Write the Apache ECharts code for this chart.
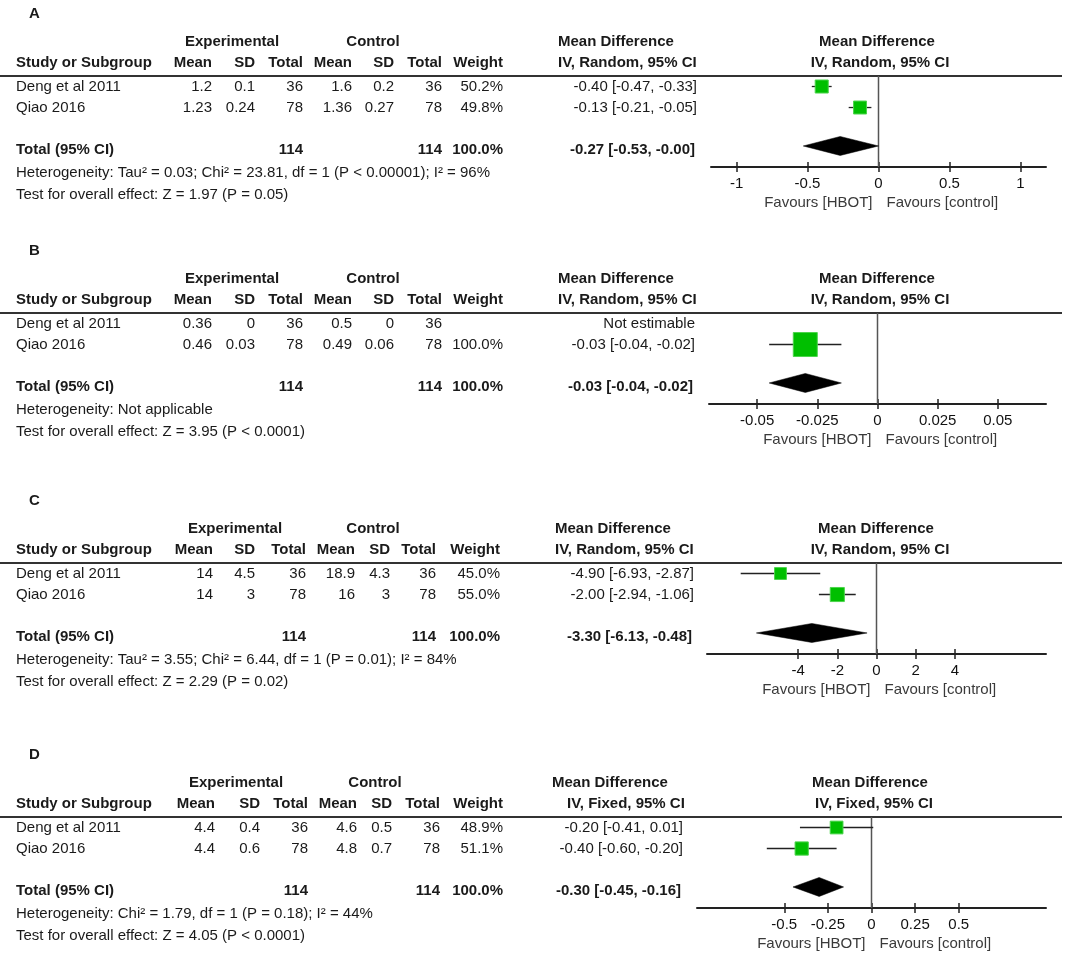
<!DOCTYPE html>
<html>
<head>
<meta charset="utf-8">
<script src="https://cdn.jsdelivr.net/npm/echarts@6/dist/echarts.min.js"></script>
<style>
html,body{margin:0;padding:0;background:#fff;}
#chart{width:1084px;height:957px;}
</style>
</head>
<body>
<div id="chart"></div>
<script>
// ---------------- DATA ----------------
const panelLetters = ['A', 'B', 'C', 'D'];
const studies = ['Deng et al 2011', 'Qiao 2016'];
const colHeaders = ['Mean', 'SD', 'Total', 'Mean', 'SD', 'Total', 'Weight'];
const expMean  = [['1.2', '1.23'], ['0.36', '0.46'], ['14', '14'], ['4.4', '4.4']];
const expSD    = [['0.1', '0.24'], ['0', '0.03'], ['4.5', '3'], ['0.4', '0.6']];
const expTotal = [['36', '78'], ['36', '78'], ['36', '78'], ['36', '78']];
const ctlMean  = [['1.6', '1.36'], ['0.5', '0.49'], ['18.9', '16'], ['4.6', '4.8']];
const ctlSD    = [['0.2', '0.27'], ['0', '0.06'], ['4.3', '3'], ['0.5', '0.7']];
const ctlTotal = [['36', '78'], ['36', '78'], ['36', '78'], ['36', '78']];
const weightText = [['50.2%', '49.8%'], ['', '100.0%'], ['45.0%', '55.0%'], ['48.9%', '51.1%']];
const mdText = [
  ['-0.40 [-0.47, -0.33]', '-0.13 [-0.21, -0.05]'],
  ['Not estimable', '-0.03 [-0.04, -0.02]'],
  ['-4.90 [-6.93, -2.87]', '-2.00 [-2.94, -1.06]'],
  ['-0.20 [-0.41, 0.01]', '-0.40 [-0.60, -0.20]']
];
const totalExp = ['114', '114', '114', '114'];
const totalCtl = ['114', '114', '114', '114'];
const totalWeight = ['100.0%', '100.0%', '100.0%', '100.0%'];
const totalText = ['-0.27 [-0.53, -0.00]', '-0.03 [-0.04, -0.02]', '-3.30 [-6.13, -0.48]', '-0.30 [-0.45, -0.16]'];
const methods = ['Random', 'Random', 'Random', 'Fixed'];
const heterogeneity = [
  'Heterogeneity: Tau² = 0.03; Chi² = 23.81, df = 1 (P < 0.00001); I² = 96%',
  'Heterogeneity: Not applicable',
  'Heterogeneity: Tau² = 3.55; Chi² = 6.44, df = 1 (P = 0.01); I² = 84%',
  'Heterogeneity: Chi² = 1.79, df = 1 (P = 0.18); I² = 44%'
];
const overallTest = [
  'Test for overall effect: Z = 1.97 (P = 0.05)',
  'Test for overall effect: Z = 3.95 (P < 0.0001)',
  'Test for overall effect: Z = 2.29 (P = 0.02)',
  'Test for overall effect: Z = 4.05 (P < 0.0001)'
];
// plotted estimates
const md      = [[-0.40, -0.13], [null, -0.03], [-4.90, -2.00], [-0.20, -0.40]];
const ciLo    = [[-0.47, -0.21], [null, -0.045], [-6.93, -2.94], [-0.41, -0.60]];
const ciHi    = [[-0.33, -0.05], [null, -0.015], [-2.87, -1.06], [0.01, -0.20]];
const weights = [[50.2, 49.8], [null, 100.0], [45.0, 55.0], [48.9, 51.1]];
const totalMd = [-0.27, -0.03, -3.30, -0.30];
const totalLo = [-0.53, -0.045, -6.13, -0.45];
const totalHi = [-0.00, -0.015, -0.48, -0.16];
const axisMax = [1.18, 0.07, 8.65, 1.0];
const axisTicks = [
  [-1, -0.5, 0, 0.5, 1],
  [-0.05, -0.025, 0, 0.025, 0.05],
  [-4, -2, 0, 2, 4],
  [-0.5, -0.25, 0, 0.25, 0.5]
];
const favours = ['Favours [HBOT]', 'Favours [control]'];

// ---------------- LAYOUT ----------------
const layout = [
  {T: 76,  col: [212, 255, 303, 352, 394, 442, 503], expC: 232, ctlC: 373, mdHdrL: 558, ivHdrL: 558, mdR: 697, plotMdC: 877, plotIvC: 880, gl: 711, gr: 1046},
  {T: 313, col: [212, 255, 303, 352, 394, 442, 503], expC: 232, ctlC: 373, mdHdrL: 558, ivHdrL: 558, mdR: 695, plotMdC: 877, plotIvC: 880, gl: 709, gr: 1046},
  {T: 563, col: [213, 255, 306, 355, 390, 436, 500], expC: 235, ctlC: 373, mdHdrL: 555, ivHdrL: 555, mdR: 694, plotMdC: 876, plotIvC: 880, gl: 707, gr: 1046},
  {T: 817, col: [215, 260, 308, 357, 392, 440, 503], expC: 236, ctlC: 375, mdHdrL: 552, ivHdrL: 567, mdR: 683, plotMdC: 870, plotIvC: 874, gl: 697, gr: 1046}
];
const AXIS_OFF = 91;
const rowPos = [0.5, 1.5];
const totalRowPos = 3.33;
const yMax = 4.33;
const FONT = '"Liberation Sans", Arial, Helvetica, sans-serif';
const FS = 15;
const TEXT_COLOR = '#1a1a1a';

function txt(x, y, s, align, bold, color) {
  return {
    type: 'text', silent: true,
    style: {
      x: x, y: y, text: s,
      font: (bold ? 'bold ' : '') + FS + 'px ' + FONT,
      fill: color || TEXT_COLOR,
      align: align || 'left', textAlign: align || 'left',
      verticalAlign: 'middle', textVerticalAlign: 'middle'
    }
  };
}

const chart = echarts.init(document.getElementById('chart'), null, {renderer: 'canvas'});

const graphics = [];
const grids = [], xAxes = [], yAxes = [], series = [];

panelLetters.forEach(function (letter, p) {
  const L = layout[p];
  const T = L.T;
  graphics.push(txt(29, T - 62, letter, 'left', true));
  graphics.push(txt(L.expC, T - 34, 'Experimental', 'center', true));
  graphics.push(txt(L.ctlC, T - 34, 'Control', 'center', true));
  graphics.push(txt(L.mdHdrL, T - 34, 'Mean Difference', 'left', true));
  graphics.push(txt(L.plotMdC, T - 34, 'Mean Difference', 'center', true));
  graphics.push(txt(16, T - 13, 'Study or Subgroup', 'left', true));
  colHeaders.forEach(function (h, c) { graphics.push(txt(L.col[c], T - 13, h, 'right', true)); });
  const ivLabel = 'IV, ' + methods[p] + ', 95% CI';
  graphics.push(txt(L.ivHdrL, T - 13, ivLabel, 'left', true));
  graphics.push(txt(L.plotIvC, T - 13, ivLabel, 'center', true));
  // rule
  graphics.push({type: 'line', silent: true, shape: {x1: 0, y1: T, x2: 1062, y2: T}, style: {stroke: '#333', lineWidth: 2}});
  // study rows
  studies.forEach(function (s, r) {
    const y = T + [11, 32][r];
    graphics.push(txt(16, y, s, 'left', false));
    const vals = [expMean[p][r], expSD[p][r], expTotal[p][r], ctlMean[p][r], ctlSD[p][r], ctlTotal[p][r], weightText[p][r]];
    vals.forEach(function (v, c) { if (v) graphics.push(txt(L.col[c], y, v, 'right', false)); });
    graphics.push(txt(L.mdR, y, mdText[p][r], 'right', false));
  });
  // total row
  const ty = T + 74;
  graphics.push(txt(16, ty, 'Total (95% CI)', 'left', true));
  graphics.push(txt(L.col[2], ty, totalExp[p], 'right', true));
  graphics.push(txt(L.col[5], ty, totalCtl[p], 'right', true));
  graphics.push(txt(L.col[6], ty, totalWeight[p], 'right', true));
  graphics.push(txt(L.mdR - 2, ty, totalText[p], 'right', true));
  graphics.push(txt(16, T + 97, heterogeneity[p], 'left', false));
  graphics.push(txt(16, T + 119, overallTest[p], 'left', false));

  // grid & axes
  grids.push({left: L.gl, width: L.gr - L.gl, top: T, height: AXIS_OFF, containLabel: false});
  const common = {type: 'value', gridIndex: p, min: -axisMax[p], max: axisMax[p], splitLine: {show: false}};
  xAxes.push(Object.assign({}, common, {
    position: 'bottom',
    axisLine: {show: true, onZero: false, lineStyle: {color: '#222', width: 2}},
    axisTick: {show: true, inside: false, length: 5, customValues: axisTicks[p], lineStyle: {color: '#222', width: 1.5}},
    axisLabel: {show: true, customValues: axisTicks[p], margin: 9, fontSize: FS, fontFamily: FONT, color: '#111',
      formatter: function (v) { return String(v); }}
  }));
  xAxes.push(Object.assign({}, common, {
    position: 'bottom',
    axisLine: {show: false, onZero: false},
    axisTick: {show: true, inside: true, length: 5, customValues: axisTicks[p], lineStyle: {color: '#222', width: 1.5}},
    axisLabel: {show: false}
  }));
  yAxes.push({type: 'value', gridIndex: p, min: 0, max: yMax, inverse: true, show: false});

  // zero line
  series.push({
    type: 'line', xAxisIndex: 2 * p, yAxisIndex: p, silent: true, symbol: 'none',
    data: [[0, 0], [0, yMax]], lineStyle: {color: '#555', width: 1.5}, z: 1
  });
  // studies
  const sdata = [];
  studies.forEach(function (s, r) {
    if (md[p][r] !== null) sdata.push([md[p][r], ciLo[p][r], ciHi[p][r], weights[p][r], rowPos[r]]);
  });
  series.push({
    type: 'custom', xAxisIndex: 2 * p, yAxisIndex: p, silent: true, z: 3,
    data: sdata,
    renderItem: function (params, api) {
      const y = api.value(4);
      const c = api.coord([api.value(0), y]);
      const a = api.coord([api.value(1), y]);
      const b = api.coord([api.value(2), y]);
      const size = 2 + 0.22 * api.value(3);
      return {
        type: 'group',
        children: [
          {type: 'line', shape: {x1: a[0], y1: a[1], x2: b[0], y2: b[1]}, style: {stroke: '#222', lineWidth: 1.3}},
          {type: 'rect', shape: {x: c[0] - size / 2, y: c[1] - size / 2, width: size, height: size},
            style: {fill: '#00bf00', stroke: '#4cd44c', lineWidth: 1}}
        ]
      };
    }
  });
  // total diamond
  series.push({
    type: 'custom', xAxisIndex: 2 * p, yAxisIndex: p, silent: true, z: 3,
    data: [[totalMd[p], totalLo[p], totalHi[p], totalRowPos]],
    renderItem: function (params, api) {
      const y = api.value(3);
      const c = api.coord([api.value(0), y]);
      const a = api.coord([api.value(1), y]);
      const b = api.coord([api.value(2), y]);
      const h = 9.5;
      return {
        type: 'polygon',
        shape: {points: [[a[0], c[1]], [c[0], c[1] - h], [b[0], c[1]], [c[0], c[1] + h]]},
        style: {fill: '#000', stroke: '#000', lineWidth: 0.5}
      };
    }
  });
});

chart.setOption({
  backgroundColor: '#fff',
  animation: false,
  grid: grids,
  xAxis: xAxes,
  yAxis: yAxes,
  series: series,
  graphic: {elements: graphics}
});

// Favours labels placed around the zero of each axis
const favGraphics = graphics.slice();
panelLetters.forEach(function (letter, p) {
  const zero = chart.convertToPixel({xAxisIndex: 2 * p}, 0);
  const y = layout[p].T + 127;
  favGraphics.push(txt(zero - 6, y, favours[0], 'right', false, '#3a3a3a'));
  favGraphics.push(txt(zero + 8, y, favours[1], 'left', false, '#3a3a3a'));
});
chart.setOption({graphic: {elements: favGraphics}}, {replaceMerge: ['graphic']});
</script>
</body>
</html>
